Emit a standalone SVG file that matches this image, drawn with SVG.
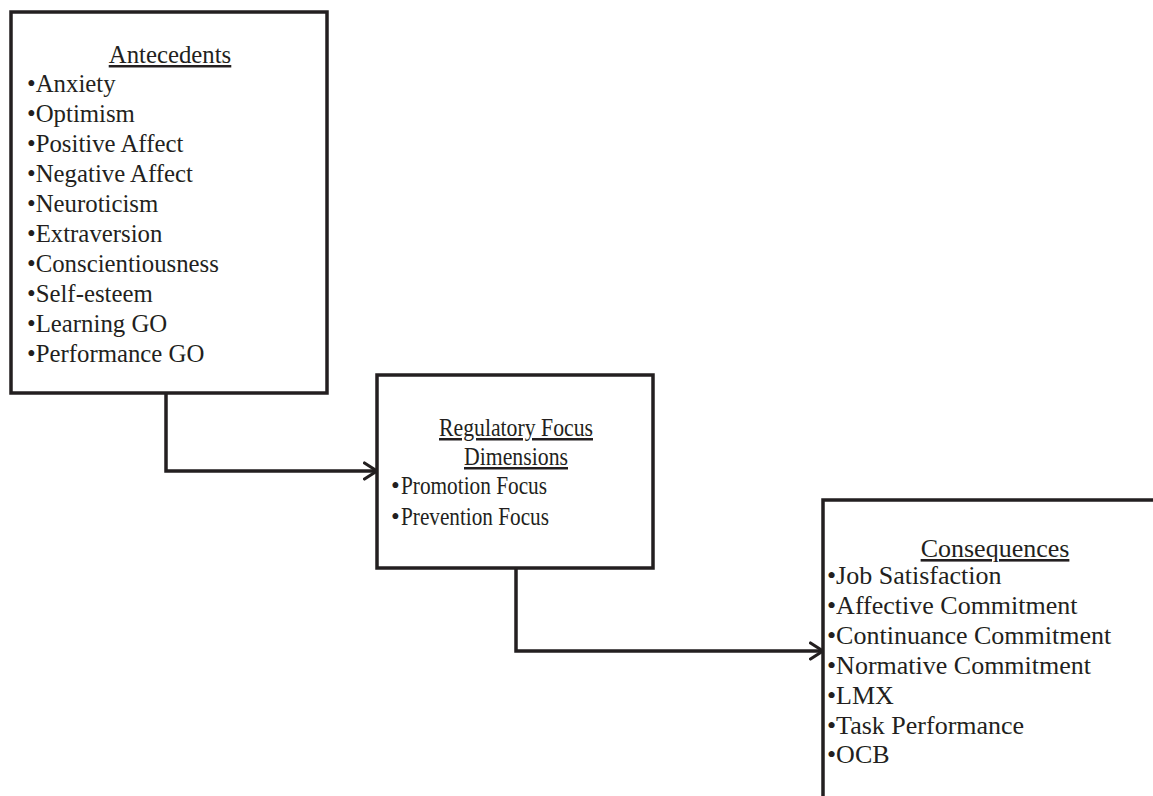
<svg xmlns="http://www.w3.org/2000/svg" width="1153" height="796" viewBox="0 0 1153 796">
<defs>
<marker id="arr" viewBox="0 0 16 20" refX="14.5" refY="10" markerWidth="16" markerHeight="20" markerUnits="userSpaceOnUse" orient="auto">
<path d="M2,2 L14.5,10 L2,18" fill="none" stroke="#231f20" stroke-width="3.2" stroke-linecap="round" stroke-linejoin="round"/>
</marker>
</defs>
<style>
.box{fill:#fff;stroke:#231f20;stroke-width:3.5}
.t{font-family:"Liberation Serif","Times New Roman",serif;font-size:21.5px;fill:#231f20}
.a{font-size:24.8px}
.q{font-size:26px}
.r{font-size:25px}
.h{text-anchor:middle;text-decoration:underline}
.c{fill:none;stroke:#231f20;stroke-width:3.5;stroke-linejoin:miter}
</style>
<rect width="1153" height="796" fill="#fff"/>
<g id="connectors">
<path class="c" d="M166,393 V471 H377" marker-end="url(#arr)"/>
<path class="c" d="M516,568 V651 H823" marker-end="url(#arr)"/>
</g>
<g id="antecedents">
<rect class="box" x="11" y="12" width="316" height="381"/>
<text class="t a h" x="170" y="63">Antecedents</text>
<text class="t a" x="27" y="92">•Anxiety</text>
<text class="t a" x="27" y="122">•Optimism</text>
<text class="t a" x="27" y="152">•Positive Affect</text>
<text class="t a" x="27" y="182">•Negative Affect</text>
<text class="t a" x="27" y="212">•Neuroticism</text>
<text class="t a" x="27" y="242">•Extraversion</text>
<text class="t a" x="27" y="272">•Conscientiousness</text>
<text class="t a" x="27" y="302">•Self-esteem</text>
<text class="t a" x="27" y="332">•Learning GO</text>
<text class="t a" x="27" y="362">•Performance GO</text>
</g>
<g id="regulatory">
<rect class="box" x="377" y="375" width="276" height="193"/>
<text class="t r h" x="516" y="436" textLength="154" lengthAdjust="spacingAndGlyphs">Regulatory Focus</text>
<text class="t r h" x="516" y="465" textLength="104" lengthAdjust="spacingAndGlyphs">Dimensions</text>
<text class="t r" x="391" y="494">•<tspan x="401" textLength="146" lengthAdjust="spacingAndGlyphs">Promotion Focus</tspan></text>
<text class="t r" x="391" y="525">•<tspan x="401" textLength="148" lengthAdjust="spacingAndGlyphs">Prevention Focus</tspan></text>
</g>
<g id="consequences">
<rect class="box" x="823" y="500" width="340" height="310"/>
<text class="t q h" x="995" y="557">Consequences</text>
<text class="t q" x="827" y="584">•Job Satisfaction</text>
<text class="t q" x="827" y="614">•Affective Commitment</text>
<text class="t q" x="827" y="644">•Continuance Commitment</text>
<text class="t q" x="827" y="674">•Normative Commitment</text>
<text class="t q" x="827" y="704">•LMX</text>
<text class="t q" x="827" y="734">•Task Performance</text>
<text class="t q" x="827" y="763">•OCB</text>
</g>
</svg>
